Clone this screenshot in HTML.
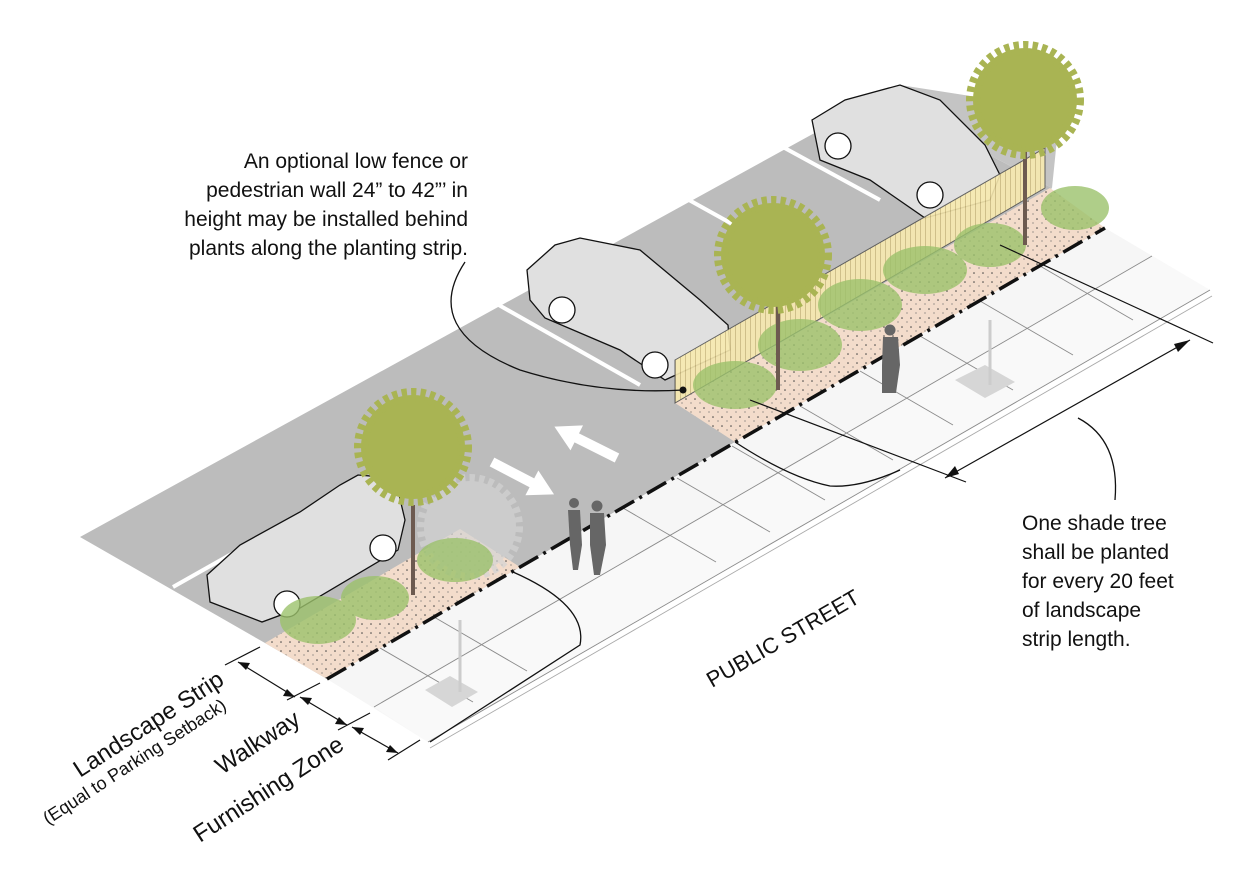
<!DOCTYPE html>
<html><head><meta charset="utf-8"><style>
html,body{margin:0;padding:0;background:#fff}
svg{display:block}
text{font-family:"Liberation Sans",Arial,sans-serif;fill:#111}
</style></head><body>
<svg width="1251" height="870" viewBox="0 0 1251 870" xmlns="http://www.w3.org/2000/svg">
<defs>
<pattern id="fp" width="5" height="10" patternUnits="userSpaceOnUse">
<rect width="5" height="10" fill="#f8eab0"/><line x1="0.5" y1="0" x2="0.5" y2="10" stroke="#c9b67a" stroke-width="0.8"/>
</pattern>
<pattern id="dots" width="9" height="9" patternUnits="userSpaceOnUse">
<rect width="9" height="9" fill="#f3dccb"/><circle cx="2" cy="3" r="0.8" fill="#444"/><circle cx="7" cy="7" r="0.6" fill="#666"/>
</pattern>
</defs>
<!-- asphalt -->
<polygon points="80,537 880,97 1052,188 735,442 520,567 327,679 265,643" fill="#bcbcbc"/>
<polygon points="880,97 1052,188 1060,110 900,85" fill="#c4c4c4"/>
<!-- stripes -->
<g stroke="#fff" stroke-width="4" fill="none">
<line x1="173" y1="587" x2="357" y2="483"/>
<line x1="490" y1="300" x2="640" y2="385"/>
<line x1="680" y1="195" x2="790" y2="256"/>
<line x1="770" y1="140" x2="880" y2="200"/>
</g>
<!-- arrows -->
<path d="M0,-5 L45,-5 L45,-14 L70,0 L45,14 L45,5 L0,5 Z" fill="#fff" transform="translate(617,458) rotate(206.6)"/>
<path d="M0,-5 L45,-5 L45,-14 L70,0 L45,14 L45,5 L0,5 Z" fill="#fff" transform="translate(492,462) rotate(27.6)"/>
<!-- sidewalk -->
<polygon points="327,679 1105,228 1210,290 428,742" fill="#f6f6f6"/>
<polygon points="374,707 1152,256 1210,290 428,742" fill="#f9f9f9"/>
<g stroke="#8a8a8a" stroke-width="0.9" fill="none">
<line x1="374" y1="707" x2="1152" y2="256"/>
<line x1="428" y1="742" x2="1210" y2="290"/>
<line x1="430" y1="748" x2="1212" y2="296" stroke="#aaa"/>
<line x1="380" y1="648" x2="473" y2="702"/><line x1="434" y1="617" x2="527" y2="671"/>
<line x1="623" y1="508" x2="716" y2="562"/><line x1="677" y1="478" x2="770" y2="532"/>
<line x1="732" y1="446" x2="825" y2="500"/><line x1="800" y1="406" x2="893" y2="460"/>
<line x1="860" y1="371" x2="953" y2="425"/><line x1="920" y1="336" x2="1013" y2="390"/>
<line x1="980" y1="301" x2="1073" y2="355"/><line x1="1040" y1="266" x2="1133" y2="320"/>
</g>
<g stroke="#111" stroke-width="1.3" fill="none">
<path d="M513,572 Q588,605 580,645 L430,742"/>
<path d="M735,442 Q790,478 830,486 Q860,488 900,470"/>
</g>
<polygon points="425,690 450,676 478,692 452,707" fill="#d6d6d6"/>
<polygon points="955,380 985,365 1015,382 985,398" fill="#d6d6d6"/>
<!-- landscape strips -->
<polygon points="265,643 460,529 520,567 327,679" fill="url(#dots)"/>
<polygon points="675,403 1050,188 1105,228 735,442" fill="url(#dots)"/>
<line x1="327" y1="679" x2="1105" y2="228" stroke="#111" stroke-width="3.5" stroke-dasharray="22,6,3,6"/>
<!-- far car -->
<g fill="#e0e0e0" stroke="#111" stroke-width="1.3">
<path d="M812,120 L845,100 L900,85 L940,100 L985,145 L1000,175 L990,200 L925,218 L870,180 L820,160 Z"/>
<circle cx="838" cy="146" r="13" fill="#fff"/><circle cx="930" cy="195" r="13" fill="#fff"/>
</g>
<!-- middle car -->
<g fill="#e0e0e0" stroke="#111" stroke-width="1.3">
<path d="M527,270 L555,245 L580,238 L640,250 L700,300 L728,325 L730,350 L665,380 L620,350 L545,318 L530,300 Z"/>
<circle cx="562" cy="310" r="13" fill="#fff"/><circle cx="655" cy="365" r="13" fill="#fff"/>
</g>
<!-- fence -->
<polygon points="675,360 1045,148 1045,188 675,403" fill="url(#fp)" stroke="#555" stroke-width="1" opacity="0.9"/>
<!-- near car -->
<g fill="#e0e0e0" stroke="#111" stroke-width="1.3">
<path d="M207,575 L240,545 L300,512 L340,485 L358,475 L395,478 L405,520 L398,550 L300,608 L262,622 L210,602 Z"/>
<circle cx="287" cy="604" r="13" fill="#fff"/><circle cx="383" cy="548" r="13" fill="#fff"/>
</g>
<!-- faded tree -->
<g fill="#d4d4d4" stroke="#d4d4d4" opacity="0.7"><circle cx="470" cy="527" r="46" stroke-width="14" stroke-dasharray="5 4"/></g>
<!-- plants -->
<g fill="#9cc26c" opacity="0.8">
<ellipse cx="318" cy="620" rx="38" ry="24"/><ellipse cx="375" cy="598" rx="34" ry="22"/>
<ellipse cx="455" cy="560" rx="38" ry="22"/>
<ellipse cx="735" cy="385" rx="42" ry="24"/><ellipse cx="800" cy="345" rx="42" ry="26"/>
<ellipse cx="860" cy="305" rx="42" ry="26"/><ellipse cx="925" cy="270" rx="42" ry="24"/>
<ellipse cx="990" cy="245" rx="36" ry="22"/><ellipse cx="1075" cy="208" rx="34" ry="22"/>
</g>
<!-- trees -->
<g stroke="#6d5a50" stroke-width="4">
<line x1="413" y1="505" x2="413" y2="595"/><line x1="778" y1="300" x2="778" y2="390"/><line x1="1025" y1="150" x2="1025" y2="245"/>
</g>
<g fill="#a9b453" stroke="#a9b453" stroke-width="14" stroke-dasharray="5 4">
<circle cx="413" cy="447" r="52"/><circle cx="773" cy="255" r="52"/><circle cx="1025" cy="100" r="52"/>
</g>
<g stroke="#ccc" stroke-width="3"><line x1="460" y1="620" x2="460" y2="692"/><line x1="990" y1="320" x2="990" y2="385"/></g>
<!-- people -->
<g fill="#666">
<circle cx="574" cy="503" r="5"/><path d="M568,510 L580,510 L582,545 L578,570 L573,570 L570,545 Z"/>
<circle cx="597" cy="506" r="5.5"/><path d="M590,513 L604,513 L606,545 L600,575 L594,575 L590,545 Z"/>
<circle cx="890" cy="330" r="5.5"/><path d="M883,337 L898,337 L900,365 L896,393 L882,393 L882,365 Z"/>
</g>
<!-- callouts -->
<path d="M465,262 Q420,330 520,370 Q600,395 683,390" fill="none" stroke="#111" stroke-width="1.3"/>
<circle cx="683" cy="390" r="3.5" fill="#111"/>
<path d="M1078,418 Q1120,440 1115,500" fill="none" stroke="#111" stroke-width="1.3"/>
<g stroke="#111" stroke-width="1.2" fill="none">
<line x1="1000" y1="245" x2="1213" y2="343"/>
<line x1="750" y1="400" x2="966" y2="482"/>
<line x1="945" y1="478" x2="1190" y2="340"/>
<line x1="225" y1="665" x2="260" y2="647"/>
<line x1="238" y1="662" x2="295" y2="697"/>
<line x1="287" y1="700" x2="320" y2="683"/>
<line x1="300" y1="697" x2="347" y2="725"/>
<line x1="338" y1="730" x2="370" y2="713"/>
<line x1="352" y1="727" x2="398" y2="753"/>
<line x1="388" y1="760" x2="420" y2="740"/>
</g>
<g fill="#111">
<polygon points="1190,340 1178,352 1174,344"/><polygon points="945,478 955,466 959,474"/>
<polygon points="238,662 250,663 246,670"/><polygon points="295,697 283,696 287,689"/>
<polygon points="300,697 312,698 308,705"/><polygon points="347,725 335,724 339,717"/>
<polygon points="352,727 364,728 360,735"/><polygon points="398,753 386,752 390,745"/>
</g>
<!-- text -->
<g font-size="21" text-anchor="end">
<text x="468" y="168">An optional low fence or</text>
<text x="468" y="197">pedestrian wall 24” to 42”’ in</text>
<text x="468" y="226">height may be installed behind</text>
<text x="468" y="255">plants along the planting strip.</text>
</g>
<g font-size="21">
<text x="1022" y="530">One shade tree</text>
<text x="1022" y="559">shall be planted</text>
<text x="1022" y="588">for every 20 feet</text>
<text x="1022" y="617">of landscape</text>
<text x="1022" y="646">strip length.</text>
</g>
<text x="712" y="688" font-size="22" transform="rotate(-30 712 688)">PUBLIC STREET</text>
<text x="80" y="778" font-size="24" transform="rotate(-33 80 778)">Landscape Strip</text>
<text x="48" y="825" font-size="18" transform="rotate(-33 48 825)">(Equal to Parking Setback)</text>
<text x="222" y="775" font-size="24" transform="rotate(-33 222 775)">Walkway</text>
<text x="200" y="843" font-size="24" transform="rotate(-33 200 843)">Furnishing Zone</text>
</svg>
</body></html>
